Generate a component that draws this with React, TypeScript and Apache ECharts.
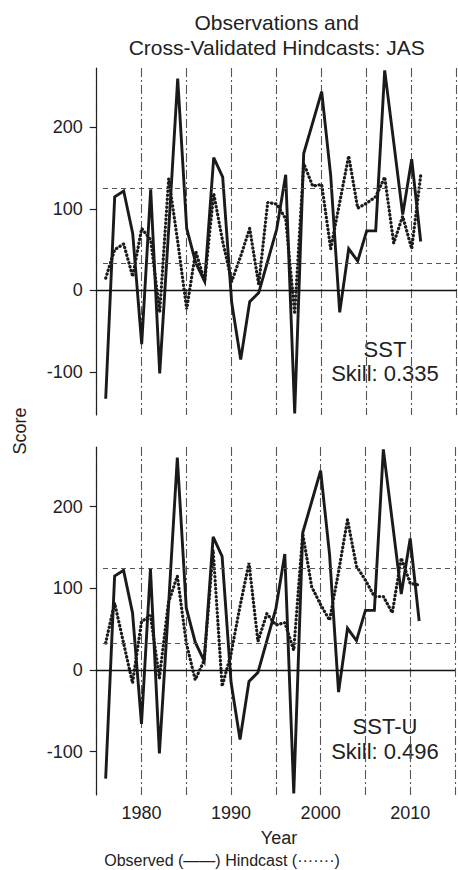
import React, { useEffect, useRef } from "react";
import * as echarts from "echarts";

const years = [1976, 1977, 1978, 1979, 1980, 1981, 1982, 1983, 1984, 1985, 1986, 1987, 1988, 1989, 1990, 1991, 1992, 1993, 1994, 1995, 1996, 1997, 1998, 1999, 2000, 2001, 2002, 2003, 2004, 2005, 2006, 2007, 2008, 2009, 2010, 2011];

const observed = [-133, 115, 122, 70, -66, 124, -102, 75, 260, 76, 34, 11, 163, 139, -15, -85, -14, -3, 36, 75, 142, -151, 168, 206, 244, 141, -27, 51, 36, 73, 73, 270, 182, 93, 161, 60];

const hindcastSST = [15, 50, 57, 17, 76, 62, -27, 137, 60, -23, 48, 11, 119, 60, 11, 42, 76, 7, 108, 106, 88, -29, 156, 128, 130, 51, 108, 165, 101, 107, 115, 139, 58, 91, 51, 141];

const hindcastSSTU = [33, 82, 33, -16, 59, 67, -10, 82, 115, 33, -12, 12, 147, -20, 20, 78, 131, 35, 69, 55, 58, 24, 167, 102, 80, 61, 120, 184, 127, 110, 90, 90, 70, 137, 106, 104];

const terciles = [125, 33];
const yTicks = [-100, 0, 100, 200];
const panelNames = ["SST", "SST-U"];
const skills = ["0.335", "0.496"];

const FONT = "'Liberation Sans', Arial, Helvetica, sans-serif";
const X_MIN = 1975;
const X_MAX = 2015;
const Y_MIN = -153;
const Y_MAX = 273;

export default function App() {
  const ref = useRef<HTMLDivElement>(null);

  useEffect(() => {
    if (!ref.current) return;
    const chart = echarts.init(ref.current, null, { renderer: "svg" });

    const grids = [
      { left: 96.7, top: 68, width: 360, height: 347 },
      { left: 96.7, top: 447, width: 360, height: 348 },
    ];

    const xAxes = grids.map((_, i) => ({
      type: "value",
      gridIndex: i,
      min: X_MIN,
      max: X_MAX,
      interval: 5,
      axisLine: { show: false },
      axisTick: { show: false },
      axisLabel: {
        show: i === 1,
        fontSize: 18,
        fontFamily: FONT,
        color: "#222",
        margin: 9,
        formatter: (v: number) => (v % 10 === 0 && v > X_MIN && v < X_MAX ? String(v) : ""),
      },
      splitLine: {
        show: true,
        lineStyle: { color: "#555", width: 1.1, type: [9, 3, 2, 3] },
      },
    }));

    const yAxes = grids.map((_, i) => ({
      type: "value",
      gridIndex: i,
      min: Y_MIN,
      max: Y_MAX,
      axisLine: { show: true, lineStyle: { color: "#222", width: 1.2 } },
      axisTick: { show: true, length: 7, customValues: yTicks, lineStyle: { color: "#222", width: 1.2 } },
      axisLabel: {
        show: true,
        customValues: yTicks,
        fontSize: 18,
        fontFamily: FONT,
        color: "#222",
        margin: 14,
      },
      splitLine: { show: false },
    }));

    const hindcasts = [hindcastSST, hindcastSSTU];

    const series: any[] = [];
    hindcasts.forEach((h, i) => {
      series.push({
        type: "line",
        xAxisIndex: i,
        yAxisIndex: i,
        data: years.map((y, k) => [y, h[k]]),
        symbol: "none",
        lineStyle: { color: "#1a1a1a", width: 3.2, type: [0.4, 3.6], cap: "round" },
        z: 3,
        markLine: {
          silent: true,
          symbol: "none",
          label: { show: false },
          animation: false,
          data: [
            { yAxis: 0, lineStyle: { color: "#111", width: 1.3, type: "solid" } },
            ...terciles.map((t) => [
              { coord: [years[0] - 0.3, t], lineStyle: { color: "#555", width: 1.1, type: [5, 4] } },
              { coord: [X_MAX, t] },
            ]),
          ],
        },
      });
      series.push({
        type: "line",
        xAxisIndex: i,
        yAxisIndex: i,
        data: years.map((y, k) => [y, observed[k]]),
        symbol: "none",
        lineStyle: { color: "#1a1a1a", width: 2.9, join: "miter" },
        z: 4,
      });
    });

    const graphic: any[] = [
      {
        type: "text",
        x: 276.7,
        y: 22,
        style: { text: "Observations and", font: `21px ${FONT}`, fill: "#222", textAlign: "center", textVerticalAlign: "middle" },
      },
      {
        type: "text",
        x: 276.7,
        y: 47,
        style: { text: "Cross-Validated Hindcasts: JAS", font: `21px ${FONT}`, fill: "#222", textAlign: "center", textVerticalAlign: "middle" },
      },
      {
        type: "text",
        x: 20,
        y: 431,
        rotation: Math.PI / 2,
        style: { text: "Score", font: `18px ${FONT}`, fill: "#222", textAlign: "center", textVerticalAlign: "middle" },
      },
      {
        type: "text",
        x: 279,
        y: 838,
        style: { text: "Year", font: `18px ${FONT}`, fill: "#222", textAlign: "center", textVerticalAlign: "middle" },
      },
      {
        type: "text",
        x: 222,
        y: 860,
        style: { text: "Observed (\u2014\u2014) Hindcast (\u00b7\u00b7\u00b7\u00b7\u00b7\u00b7\u00b7)", font: `16px ${FONT}`, fill: "#222", textAlign: "center", textVerticalAlign: "middle" },
      },
    ];
    const labelY = [[349, 373], [726, 751]];
    panelNames.forEach((name, i) => {
      graphic.push({
        type: "text",
        x: 385,
        y: labelY[i][0],
        style: { text: name, font: `22px ${FONT}`, fill: "#222", textAlign: "center", textVerticalAlign: "middle" },
      });
      graphic.push({
        type: "text",
        x: 385,
        y: labelY[i][1],
        style: { text: "Skill: " + skills[i], font: `22px ${FONT}`, fill: "#222", textAlign: "center", textVerticalAlign: "middle" },
      });
    });

    chart.setOption({
      animation: false,
      backgroundColor: "#fff",
      grid: grids,
      xAxis: xAxes,
      yAxis: yAxes,
      series,
      graphic,
    });

    return () => chart.dispose();
  }, []);

  return (
    <div
      ref={ref}
      style={{ position: "absolute", left: 0, top: 0, width: 458, height: 870, background: "#fff" }}
    />
  );
}
